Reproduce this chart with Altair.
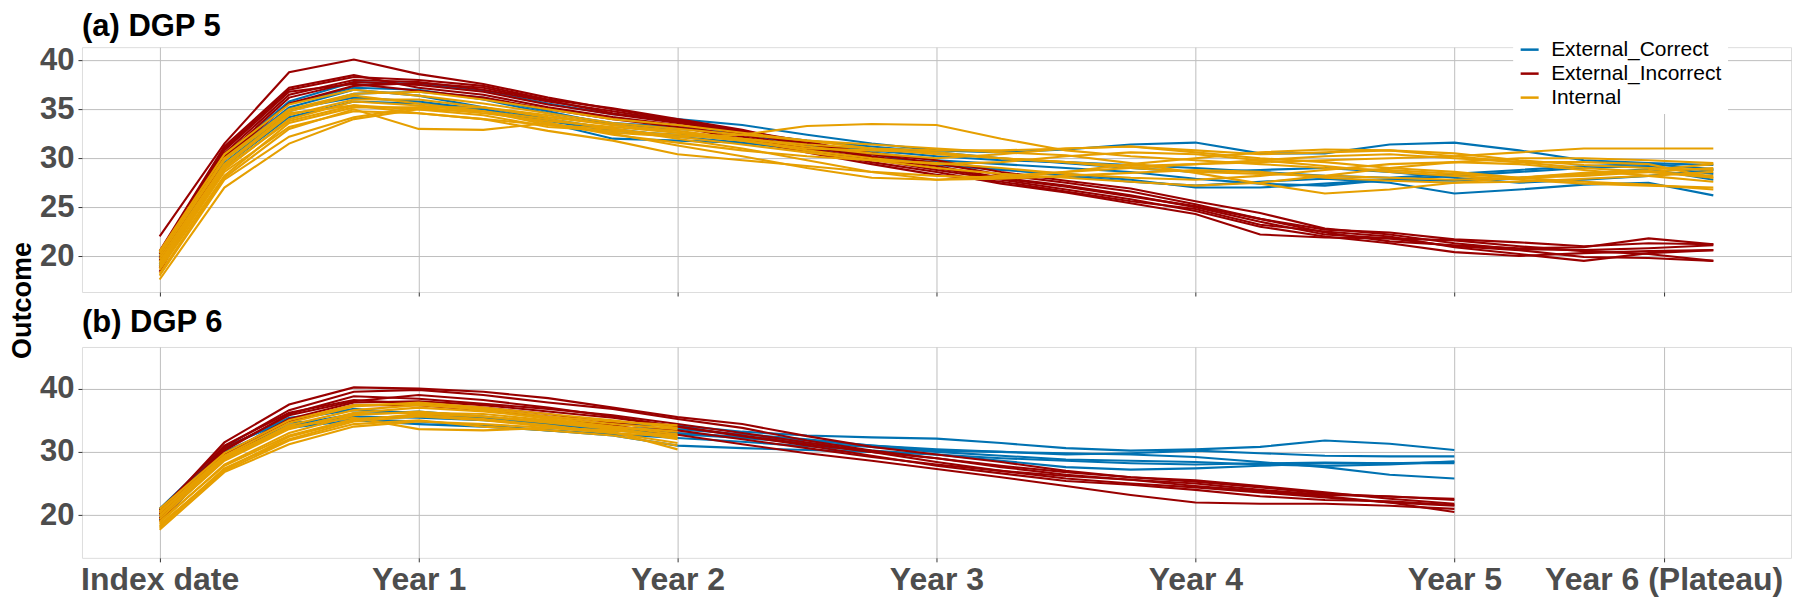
import altair as alt
import pandas as pd

# ---------------- data ----------------
MONTHS_A = [0, 3, 6, 9, 12, 15, 18, 21, 24, 27, 30, 33, 36, 39, 42, 45, 48, 51, 54, 57, 60, 63, 66, 69, 72]
MONTHS_B_EXT = [0, 3, 6, 9, 12, 15, 18, 21, 24, 27, 30, 33, 36, 39, 42, 45, 48, 51, 54, 57, 60]
MONTHS_B_INT = [0, 3, 6, 9, 12, 15, 18, 21, 24]

GROUPS = ["External_Correct", "External_Incorrect", "Internal"]
COLORS = ["#0072B2", "#990000", "#E69F00"]

X_TICKS = [0, 12, 24, 36, 48, 60, 69.7]
X_LABELS = ["Index date", "Year 1", "Year 2", "Year 3", "Year 4", "Year 5", "Year 6 (Plateau)"]
Y_TICKS_A = [20, 25, 30, 35, 40]
Y_TICKS_B = [20, 30, 40]

# (a) DGP 5
A_CORRECT = [
    [19.8, 30.2, 35.8, 37.8, 37.6, 36.9, 35.6, 34.5, 34.0, 33.4, 32.4, 31.5, 30.8, 30.6, 30.9, 31.4, 31.6, 30.5, 30.5, 31.4, 31.6, 30.8, 29.8, 29.5, 29.3],
    [19.2, 29.5, 34.8, 36.6, 36.8, 36.2, 34.8, 33.4, 33.0, 32.6, 31.8, 31.2, 30.6, 30.0, 29.5, 29.0, 28.6, 28.8, 29.0, 28.6, 28.0, 27.5, 27.8, 28.2, 28.8],
    [20.0, 30.0, 35.2, 37.0, 36.4, 35.2, 34.0, 33.0, 32.2, 31.6, 30.8, 30.0, 29.6, 28.9, 28.2, 27.6, 27.2, 27.6, 27.9, 27.5, 26.4, 26.8, 27.3, 27.5, 26.2],
    [19.6, 29.8, 35.0, 36.2, 35.8, 35.0, 33.8, 32.8, 32.4, 32.0, 31.3, 30.6, 29.8, 29.4, 29.0, 28.6, 27.9, 27.4, 27.2, 27.8, 28.2, 28.6, 29.0, 29.2, 28.4],
    [19.0, 29.2, 34.2, 35.8, 35.6, 35.0, 33.6, 32.0, 31.8, 31.6, 31.0, 30.4, 29.3, 28.8, 28.4, 27.8, 27.0, 27.0, 27.4, 27.8, 27.7, 28.0, 28.4, 28.9, 27.8],
    [20.3, 30.4, 35.6, 37.2, 37.0, 36.0, 34.6, 33.6, 33.2, 32.4, 31.4, 30.8, 30.2, 29.8, 29.6, 29.3, 29.0, 28.6, 28.2, 28.0, 28.4, 28.8, 29.2, 29.4, 28.9],
]
A_INCORRECT = [
    [22.0, 31.5, 38.8, 40.1, 38.6, 37.6, 36.2, 35.0, 33.9, 32.8, 31.7, 30.4, 29.5, 28.3, 27.5, 26.6, 25.3, 23.8, 22.4, 21.5, 21.1, 20.8, 20.9, 21.8, 21.2],
    [20.2, 31.0, 37.0, 38.3, 38.0, 37.4, 36.0, 35.1, 34.0, 32.9, 31.5, 30.2, 29.2, 28.0, 27.2, 26.2, 25.0, 23.5, 22.2, 21.8, 21.0, 20.6, 19.9, 19.8, 19.5],
    [19.5, 30.5, 36.5, 38.0, 37.8, 37.0, 35.8, 34.8, 33.8, 32.4, 31.0, 29.9, 28.8, 27.8, 26.8, 25.8, 24.6, 23.0, 22.0, 21.3, 20.4, 20.0, 20.3, 20.5, 20.6],
    [18.8, 30.2, 36.2, 37.8, 37.5, 36.8, 35.5, 34.5, 33.6, 32.6, 31.5, 30.5, 29.8, 28.6, 27.7, 26.9, 25.6, 24.4, 22.8, 22.2, 21.3, 20.7, 20.6, 20.8, 21.1],
    [20.5, 31.2, 37.2, 38.5, 37.2, 36.5, 35.2, 34.2, 33.4, 32.2, 30.9, 29.6, 28.6, 27.4, 26.5, 25.4, 24.3, 22.2, 21.9, 21.8, 21.6, 21.0, 20.5, 20.2, 19.5],
    [19.8, 30.8, 36.8, 37.6, 36.9, 36.2, 35.0, 34.0, 33.2, 32.0, 30.6, 29.4, 28.3, 27.6, 26.6, 25.6, 24.8, 23.2, 22.5, 22.0, 20.9, 20.2, 19.5, 20.3, 20.6],
    [18.4, 30.0, 35.6, 37.4, 37.7, 37.2, 35.9, 34.6, 33.7, 32.7, 31.2, 30.1, 29.0, 27.9, 27.1, 26.1, 25.1, 23.8, 22.7, 22.4, 21.7, 21.4, 21.0, 21.3, 21.2],
]
A_INTERNAL = [
    [17.6, 27.0, 31.5, 34.0, 35.0, 34.8, 34.0, 33.0, 32.0, 31.0, 29.8, 28.6, 27.8, 27.9, 28.2, 28.5, 28.8, 28.6, 28.0, 27.7, 27.5, 27.6, 27.9, 28.2, 28.6],
    [18.2, 28.0, 33.0, 35.0, 33.0, 32.9, 33.6, 32.5, 31.3, 30.2, 29.0, 28.0, 27.8, 28.2, 28.6, 29.0, 29.4, 29.6, 29.8, 30.0, 30.2, 30.6, 31.0, 31.0, 31.0],
    [19.0, 28.8, 34.0, 35.8, 35.4, 34.8, 33.4, 32.6, 32.2, 32.4, 33.3, 33.5, 33.4, 32.0, 30.8, 30.2, 29.8, 29.4, 29.0, 28.8, 28.4, 28.0, 28.2, 28.6, 29.0],
    [20.5, 30.4, 35.5, 37.0, 36.4, 35.6, 34.6, 33.6, 33.0, 32.4, 31.8, 31.4, 31.0, 30.6, 30.3, 29.5, 28.5, 27.4, 26.4, 26.8, 27.5, 28.0, 28.5, 28.8, 29.4],
    [18.6, 28.2, 33.6, 35.2, 35.2, 34.6, 33.8, 33.2, 32.6, 31.8, 30.8, 30.0, 29.4, 29.6, 30.2, 30.6, 30.4, 29.8, 29.2, 28.6, 28.2, 27.8, 27.4, 27.2, 27.0],
    [19.4, 29.2, 34.4, 36.0, 36.0, 35.2, 34.2, 33.4, 32.8, 32.0, 31.2, 30.5, 30.0, 30.4, 31.0, 31.2, 30.8, 30.4, 30.6, 30.8, 30.5, 29.8, 29.3, 29.0, 28.8],
    [20.0, 29.8, 34.8, 36.4, 35.6, 34.8, 33.6, 32.4, 31.6, 30.8, 30.2, 29.8, 29.5, 29.0, 28.4, 28.0, 27.8, 28.2, 28.8, 29.4, 29.6, 29.4, 28.8, 28.2, 27.6],
    [18.8, 28.6, 33.2, 34.8, 34.6, 34.0, 33.4, 33.0, 32.2, 31.4, 30.6, 29.8, 29.0, 28.4, 28.0, 27.6, 27.2, 27.5, 28.2, 29.0, 29.6, 30.0, 30.0, 29.8, 29.5],
    [19.7, 29.4, 34.6, 35.4, 35.0, 34.4, 33.2, 32.8, 32.4, 31.8, 31.0, 30.8, 30.6, 30.0, 29.6, 29.2, 29.4, 29.8, 30.2, 30.4, 30.0, 29.6, 29.6, 29.4, 28.0],
    [18.0, 27.8, 32.2, 34.2, 35.2, 35.2, 34.4, 33.4, 32.6, 32.0, 31.4, 31.0, 30.8, 30.8, 31.0, 31.2, 30.6, 30.0, 29.6, 29.0, 28.6, 28.0, 27.6, 27.3, 26.8],
    [19.2, 29.0, 33.8, 35.4, 34.6, 34.0, 32.8, 31.8, 30.4, 29.8, 29.2, 28.6, 28.2, 28.0, 28.6, 29.4, 30.0, 30.6, 30.9, 30.8, 30.2, 29.6, 29.0, 28.6, 28.2],
    [20.3, 30.0, 35.0, 36.6, 36.8, 36.0, 35.0, 34.0, 33.4, 32.6, 31.8, 31.0, 30.4, 30.0, 29.6, 29.0, 28.6, 28.4, 28.2, 28.0, 27.8, 28.0, 28.4, 28.6, 28.0],
]

# (b) DGP 6
B_CORRECT = [
    [20.8, 30.6, 35.4, 36.6, 36.2, 35.4, 34.8, 34.4, 34.2, 33.2, 32.6, 32.3, 32.1, 31.4, 30.6, 30.2, 30.4, 30.8, 31.8, 31.3, 30.3],
    [19.5, 29.4, 34.0, 35.6, 35.4, 35.0, 34.4, 33.6, 33.0, 32.4, 31.8, 31.0, 30.4, 30.0, 29.6, 29.8, 30.2, 29.8, 29.4, 29.3, 29.3],
    [20.2, 30.0, 34.6, 35.2, 34.8, 34.2, 33.4, 32.6, 31.0, 30.6, 30.3, 30.0, 29.6, 29.0, 28.6, 28.2, 28.0, 28.2, 28.3, 28.2, 28.4],
    [19.8, 29.6, 34.2, 36.0, 36.4, 35.6, 34.6, 33.8, 33.6, 32.8, 32.0, 31.0, 30.2, 30.0, 29.8, 29.6, 29.2, 28.4, 27.6, 26.4, 25.8],
    [21.0, 30.8, 35.0, 36.8, 36.0, 35.2, 34.4, 33.4, 32.8, 32.2, 31.4, 30.8, 30.0, 29.4, 28.8, 28.6, 28.4, 28.0, 27.8, 28.0, 28.5],
    [19.2, 29.0, 33.8, 35.0, 34.4, 34.0, 33.4, 32.8, 32.2, 31.6, 30.9, 30.2, 29.6, 28.6, 27.6, 27.2, 27.4, 27.8, 28.2, 28.2, 28.2],
]
B_INCORRECT = [
    [20.5, 31.5, 37.5, 40.2, 40.0, 39.5, 38.5, 37.0, 35.5, 34.4, 32.5, 30.8, 29.6, 28.4, 27.0, 26.0, 25.3, 24.4, 23.4, 22.9, 22.6],
    [19.5, 30.8, 36.6, 39.5, 39.8, 39.0, 37.8, 36.8, 35.2, 33.8, 31.8, 30.2, 29.0, 27.6, 26.4, 25.6, 25.0, 24.0, 23.2, 23.0, 22.4],
    [20.0, 30.2, 36.0, 38.8, 38.4, 37.6, 36.8, 35.8, 34.4, 33.0, 31.5, 30.0, 28.4, 27.0, 25.8, 25.0, 24.4, 23.6, 22.8, 22.0, 21.5],
    [19.0, 29.6, 35.2, 37.8, 38.0, 37.4, 36.4, 35.4, 34.0, 32.5, 31.0, 29.4, 27.8, 26.6, 25.4, 24.8, 24.0, 23.0, 22.4, 22.2, 21.6],
    [20.8, 31.0, 36.2, 38.2, 37.6, 37.0, 36.0, 34.6, 33.4, 32.0, 30.6, 29.2, 28.0, 27.0, 26.2, 25.6, 24.6, 23.8, 23.0, 22.0, 20.5],
    [19.3, 29.2, 34.8, 37.4, 37.4, 36.6, 35.6, 34.2, 32.7, 31.2, 29.8, 28.6, 27.3, 26.0, 24.6, 23.2, 22.0, 21.8, 21.8, 21.5, 21.0],
    [20.2, 30.5, 35.8, 38.0, 39.0, 38.2, 37.0, 35.6, 34.0, 32.6, 31.2, 30.0, 29.0, 27.8, 26.8, 26.0, 25.5, 24.6, 23.6, 22.6, 21.8],
]
B_INTERNAL = [
    [17.7, 26.8, 31.2, 34.0, 34.8, 34.4, 33.8, 33.0, 32.4],
    [18.2, 27.4, 32.0, 34.8, 35.6, 35.0, 34.0, 33.2, 30.4],
    [18.8, 28.0, 33.0, 35.8, 36.4, 35.6, 34.6, 33.6, 32.0],
    [19.4, 28.6, 33.6, 36.2, 37.0, 36.4, 35.4, 34.4, 33.6],
    [20.0, 29.0, 34.2, 36.6, 37.4, 36.8, 35.6, 34.8, 34.2],
    [20.6, 29.4, 34.6, 37.2, 37.8, 37.0, 36.0, 35.0, 33.8],
    [19.0, 27.8, 32.6, 35.2, 35.8, 35.2, 34.2, 33.0, 31.4],
    [18.5, 27.0, 31.8, 34.4, 35.0, 34.0, 33.4, 32.6, 31.0],
    [19.8, 28.8, 33.8, 36.0, 36.2, 36.0, 35.0, 34.0, 32.8],
    [20.4, 29.2, 34.0, 35.4, 33.6, 33.4, 33.8, 33.4, 32.6],
    [21.0, 29.8, 35.0, 37.4, 37.6, 36.6, 35.2, 34.0, 33.2],
    [18.0, 27.2, 32.4, 35.0, 36.0, 35.6, 34.8, 33.8, 32.2],
]


def build(sets):
    rows = []
    for group, lines, months in sets:
        for i, vals in enumerate(lines):
            for m, v in zip(months, vals):
                rows.append({"group": group, "line": f"{group}_{i}", "month": m, "value": v})
    return pd.DataFrame(rows)


df_a = build([("External_Correct", A_CORRECT, MONTHS_A),
              ("External_Incorrect", A_INCORRECT, MONTHS_A),
              ("Internal", A_INTERNAL, MONTHS_A)])
df_b = build([("External_Correct", B_CORRECT, MONTHS_B_EXT),
              ("External_Incorrect", B_INCORRECT, MONTHS_B_EXT),
              ("Internal", B_INTERNAL, MONTHS_B_INT)])

# ---------------- style ----------------
FONT = "Liberation Sans"
GRID = "#BEBEBE"
LABEL_COLOR = "#4D4D4D"
W = 1710

label_expr = " : ".join(f"datum.value == {v} ? '{l}'" for v, l in zip(X_TICKS, X_LABELS)) + " : ''"


def x_enc(show_labels):
    return alt.X(
        "month:Q",
        scale=alt.Scale(domain=[-3.6, 75.6], nice=False, zero=False),
        axis=alt.Axis(values=X_TICKS, labelExpr=label_expr, labels=show_labels, title=None,
                      grid=True, gridColor=GRID, gridWidth=1, domain=False,
                      ticks=True, tickColor="#333333", tickSize=4, tickWidth=1,
                      labelFont=FONT, labelFontSize=32, labelFontWeight="bold",
                      labelColor=LABEL_COLOR, labelPadding=3, labelOverlap=False,
                      labelFlush=False, labelLimit=0),
    )


def y_axis(ticks, with_title):
    kw = dict(values=ticks, grid=True, gridColor=GRID, gridWidth=1, domain=False,
              ticks=True, tickColor="#333333", tickSize=4, tickWidth=1,
              labelFont=FONT, labelFontSize=31, labelFontWeight="bold",
              labelColor=LABEL_COLOR, labelPadding=4)
    if with_title:
        kw.update(title="Outcome", titleFont=FONT, titleFontSize=27, titleFontWeight="bold",
                  titleColor="black", titleAngle=270, titleAlign="center",
                  titleBaseline="alphabetic", titleX=-51, titleY=253, titleLimit=0)
    else:
        kw.update(title=None)
    return alt.Axis(**kw)


color_scale = alt.Scale(domain=GROUPS, range=COLORS)

legend = alt.Legend(orient="none", legendX=1432, legendY=-14, title=None,
                    symbolType="stroke", symbolSize=324, symbolStrokeWidth=2.5,
                    labelFont=FONT, labelFontSize=21, labelColor="black", labelLimit=0,
                    fillColor="white", padding=6, rowPadding=2, labelOffset=11)


def title(text, dy):
    return alt.TitleParams(text=text, anchor="start", frame="group", fontSize=31,
                           font=FONT, fontWeight="bold", color="black",
                           baseline="alphabetic", offset=13, dy=dy)


panel_a = alt.Chart(df_a).mark_line(strokeWidth=2.1).encode(
    x=x_enc(False),
    y=alt.Y("value:Q", scale=alt.Scale(domain=[16.32, 41.36], nice=False, zero=False),
            axis=y_axis(Y_TICKS_A, True)),
    color=alt.Color("group:N", scale=color_scale, legend=legend),
    detail="line:N",
).properties(width=W, height=245, title=title("(a) DGP 5", 47))

panel_b = alt.Chart(df_b).mark_line(strokeWidth=2.1).encode(
    x=x_enc(True),
    y=alt.Y("value:Q", scale=alt.Scale(domain=[13.25, 46.59], nice=False, zero=False),
            axis=y_axis(Y_TICKS_B, False)),
    color=alt.Color("group:N", scale=color_scale, legend=None),
    detail="line:N",
).properties(width=W, height=211, title=title("(b) DGP 6", 29))

chart = alt.vconcat(panel_a, panel_b, spacing=55, bounds="flush").resolve_scale(
    y="independent", x="independent"
).resolve_legend(color="independent").properties(
    padding={"left": 0, "top": 2, "right": 0, "bottom": 0}
).configure_view(strokeWidth=0).configure(background="white")

chart.save("out.html", embed_options={"renderer": "svg", "actions": False})
